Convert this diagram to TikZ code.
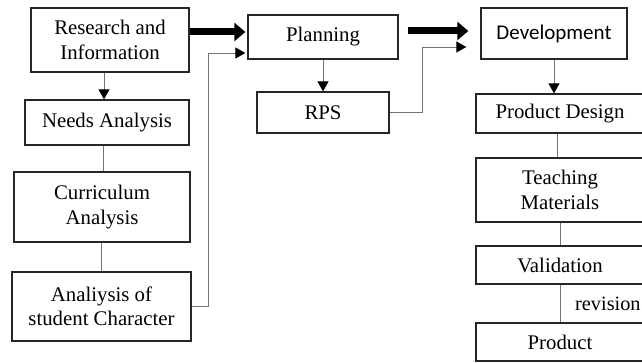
\documentclass[tikz,border=0pt]{standalone}
\usepackage{fontspec}
\setmainfont{Liberation Serif}
\newfontfamily\calibrifont{Carlito}
\usetikzlibrary{arrows.meta,calc}
\begin{document}
\begin{tikzpicture}[x=1pt,y=-1pt,
  box/.style={draw=black!85,line width=1.3pt,inner sep=0pt,align=center,
    font=\fontsize{20.8}{24.5}\selectfont},
  link/.style={draw=black!55,line width=0.9pt},
  arr/.style={link,-{Triangle[length=10pt,width=11pt,color=black]}},
  bigarr/.style={draw=black,line width=7pt,-{Triangle[length=11pt,width=18pt]}}]
\useasboundingbox (0,0) rectangle (642,363);
\clip (0,0) rectangle (642,363);
% left column
\node[box,minimum width=158pt,minimum height=64pt] (res) at (110,40) {Research and\\Information};
\node[box,minimum width=164pt,minimum height=45pt] (need) at (107,122.5) {Needs Analysis};
\node[box,minimum width=176pt,minimum height=70pt] (cur) at (102,207) {Curriculum\\Analysis};
\node[box,minimum width=179pt,minimum height=69pt] (stu) at (101.5,306.5) {Analiysis of\\student Character};
% middle column
\node[box,minimum width=150pt,minimum height=44pt] (plan) at (323,37) {Planning};
\node[box,minimum width=132pt,minimum height=41pt] (rps) at (323,112.5) {RPS};
% right column
\node[box,minimum width=146pt,minimum height=51pt,font=\calibrifont\fontsize{21}{25}\selectfont] (dev) at (554,33.5) {Development};
\node[box,minimum width=168pt,minimum height=39pt] (pd) at (560,113.5) {Product Design};
\node[box,minimum width=168pt,minimum height=64pt] (tm) at (560,190) {Teaching\\Materials};
\node[box,minimum width=168pt,minimum height=38pt] (val) at (560,265) {Validation};
\node[box,minimum width=168pt,minimum height=38pt] (prod) at (560,342) {Product};
\node[anchor=west,inner sep=0pt,font=\fontsize{20.3}{24.5}\selectfont] (rev) at (575,304) {revision};
% coordinates
\coordinate (t1) at (0,32);
\coordinate (t2) at (0,31);
\coordinate (j1) at (208,53);
\coordinate (j2) at (422,47);
% connectors left
\draw[arr] (need.north |- res.south) ++(-3,0) coordinate (a1) -- (a1 |- need.north);
\draw[link] (need.south) ++(-4,0) coordinate (a2) -- (a2 |- cur.north);
\draw[link] (stu.north) -- (stu.north |- cur.south);
\draw[arr] (stu.east) -| (j1) -- ([xshift=-2pt]plan.west |- j1);
\draw[bigarr] (res.east |- t1) -- ([xshift=-2pt]plan.west |- t1);
% middle
\draw[arr] (plan.south) -- (rps.north);
\draw[arr] (rps.east) -| (j2) -- ([xshift=-14pt]dev.west |- j2);
\draw[bigarr] ([xshift=9pt]plan.east |- t2) -- ([xshift=-12pt]dev.west |- t2);
% right
\draw[arr] (dev.south) -- (dev.south |- pd.north);
\draw[link] (pd.south) ++(-3,0) coordinate (a3) -- (a3 |- tm.north);
\draw[link] (tm.south) -- (val.north);
\draw[link] (val.south) -- (prod.north);
\end{tikzpicture}
\end{document}
